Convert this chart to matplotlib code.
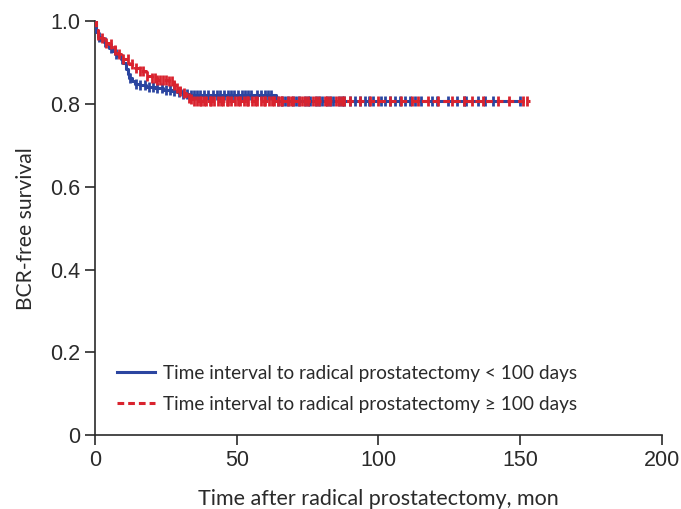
import matplotlib
matplotlib.use("Agg")
import matplotlib.pyplot as plt
import numpy as np

# Kaplan-Meier step data (time in months, survival after step)
blue_t = [0, 0.5, 1, 2, 3, 4, 5, 6, 7, 8, 9, 10, 11, 11.5, 12, 13, 14, 16, 18, 21, 24, 27, 29, 31, 33, 35, 64, 150]
blue_s = [1.0, 0.975, 0.962, 0.955, 0.95, 0.944, 0.936, 0.928, 0.922, 0.915, 0.908, 0.9, 0.885, 0.872, 0.862, 0.855, 0.849, 0.845, 0.842, 0.838, 0.835, 0.831, 0.828, 0.825, 0.823, 0.822, 0.808, 0.808]
red_t = [0, 0.5, 1, 2, 3, 4, 5, 6, 7, 8, 9, 10, 12, 14, 16, 18, 20, 22, 26, 28, 29, 30, 31, 32, 33, 34, 35, 153.5]
red_s = [1.0, 0.978, 0.966, 0.96, 0.954, 0.948, 0.944, 0.938, 0.93, 0.922, 0.916, 0.908, 0.896, 0.888, 0.88, 0.868, 0.862, 0.858, 0.855, 0.846, 0.839, 0.832, 0.826, 0.82, 0.815, 0.811, 0.808, 0.808]

blue_censor = [1.5, 3.5, 5.5, 7.5, 9.5, 12.5, 14.5, 16, 17.5, 19, 20.5, 22, 23.5, 25, 26.5, 28, 29.5, 31,
               32.5, 34, 35, 36, 37, 38.5, 40, 41.5, 43, 44, 45.5, 47, 48, 49, 50.5, 52, 53, 54, 55, 57,
               58.5, 60, 61, 62, 64.5, 66, 67, 68, 70, 71, 72, 74, 75, 76, 78, 79, 80, 82, 83, 84, 86, 87,
               88, 90, 91.7, 93.5, 95.2, 96.5, 98.2, 101, 102.3, 104, 105.8, 107.6, 109.3, 111, 113, 115,
               118.8, 120.5, 124.6, 127.6, 130, 131, 135, 137.6, 140.3, 150]
red_censor = [1, 2.5, 4, 5.5, 7, 8.5, 10, 11.5, 13, 14.5, 16, 17, 18.5, 20, 21, 22, 23, 24, 25, 26, 27,
              28, 29, 30, 31.5, 33, 34, 35, 36, 37, 37.5, 38.5, 39, 40.5, 41, 42, 43.5, 44.5, 45, 46.5, 47,
              48, 49.5, 50.5, 51, 52.5, 53.5, 54, 55.5, 56.5, 57, 58.5, 59.5, 60, 61.5, 62.5, 63, 64.5,
              65.5, 66, 68, 69, 70, 72, 73, 74, 75, 77, 78, 79, 81, 82, 83, 85, 86, 87, 88, 90, 93.5, 97,
              100, 104, 108, 111.8, 114, 117.5, 121, 126, 130, 133, 137, 142, 146, 151, 152.3]

labels = ["Time interval to radical prostatectomy < 100 days",
          "Time interval to radical prostatectomy \u2265 100 days"]
xticks = [0, 50, 100, 150, 200]
yticks = [0, 0.2, 0.4, 0.6, 0.8, 1.0]
yticklabels = ["0", "0.2", "0.4", "0.6", "0.8", "1.0"]

BLUE = "#2b45a0"
RED = "#d9232e"
TXT = "#2a2a2a"
sansf = ["Lato", "DejaVu Sans"]

fig = plt.figure(figsize=(6.81, 5.09), dpi=100)
ax = fig.add_axes([0.1395, 0.1454, 0.8325, 0.8128])


def surv_at(ts, ss, x):
    idx = np.searchsorted(ts, x, side="right") - 1
    return np.array(ss)[idx]


ax.step(blue_t, blue_s, where="post", color=BLUE, lw=2.2, label=labels[0], zorder=3)
ax.plot(blue_censor, surv_at(blue_t, blue_s, blue_censor), ls="none", marker="|",
        ms=6.5, mew=2.0, color=BLUE, zorder=3)
ax.step(red_t, red_s, where="post", color=RED, lw=2.2, ls=(0, (2.2, 1.3)), label=labels[1], zorder=4)
ax.plot(red_censor, surv_at(red_t, red_s, red_censor), ls="none", marker="|",
        ms=6.5, mew=2.0, color=RED, zorder=4)

ax.set_xlim(0, 200)
ax.set_ylim(0, 1.0)
ax.set_xticks(xticks)
ax.set_yticks(yticks)
ax.set_yticklabels(yticklabels)
for s in ["top", "right"]:
    ax.spines[s].set_visible(False)
for s in ["left", "bottom"]:
    ax.spines[s].set_linewidth(1.2)
    ax.spines[s].set_color(TXT)
ax.tick_params(direction="out", length=7, width=1.2, color=TXT, labelsize=15.5,
               labelcolor=TXT)
for lab in ax.get_xticklabels() + ax.get_yticklabels():
    lab.set_family(["Liberation Sans", "DejaVu Sans"])

ax.set_xlabel("Time after radical prostatectomy, mon", fontsize=15.5, family=sansf,
              color=TXT, labelpad=13)
ax.set_ylabel("BCR-free survival", fontsize=15.2, family=sansf, color=TXT, labelpad=10)

leg = ax.legend(loc="center left", bbox_to_anchor=(0.039, 0.112), frameon=False,
                borderaxespad=0, borderpad=0,
                prop={"family": sansf, "size": 13.7}, handlelength=2.0, handletextpad=0.4,
                labelspacing=0.72, labelcolor=TXT)

fig.savefig("out.png", dpi=100)
